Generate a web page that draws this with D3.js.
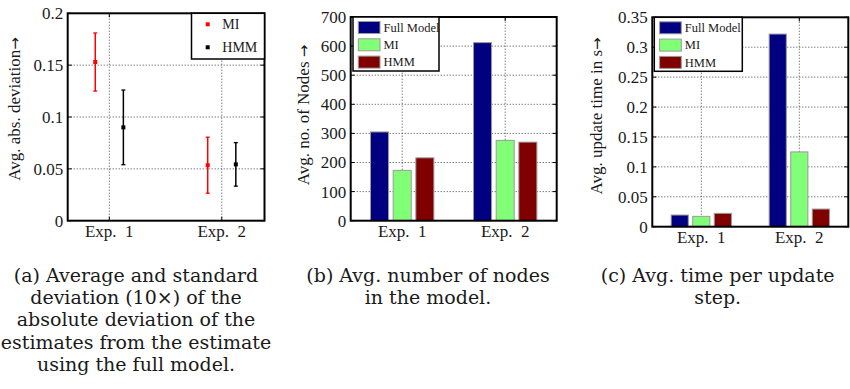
<!DOCTYPE html>
<html>
<head>
<meta charset="utf-8">
<script src="https://cdn.jsdelivr.net/npm/d3@7"></script>
<style>
  body { margin: 0; background: #fff; }
  svg text { font-family: "Liberation Serif", "Times New Roman", serif; fill: #1a1a1a; }
  svg text.cap { font-family: "DejaVu Serif", serif; }
  svg tspan.arrow { font-family: "DejaVu Sans", sans-serif; font-size: 15px; }
</style>
</head>
<body>
<svg id="fig" width="850" height="389"></svg>
<script>
// ---- data ----
const experiments = ['Exp. 1', 'Exp. 2'];
const devSeries = ['MI', 'HMM'];
const miDevMean = [0.153, 0.0535];
const miDevStd = [0.028, 0.027];
const hmmDevMean = [0.090, 0.0543];
const hmmDevStd = [0.036, 0.021];

const barSeries = ['Full Model', 'MI', 'HMM'];
const fullNodes = [305, 612];
const miNodes = [173, 276];
const hmmNodes = [216, 270];
const fullTime = [0.0195, 0.322];
const miTime = [0.0173, 0.125];
const hmmTime = [0.0223, 0.0295];

const devTicks = [0, 0.05, 0.1, 0.15, 0.2];
const nodeTicks = [0, 100, 200, 300, 400, 500, 600, 700];
const timeTicks = [0, 0.05, 0.1, 0.15, 0.2, 0.25, 0.3, 0.35];

const captionA = ['(a) Average and standard', 'deviation (10\u00d7) of the',
  'absolute deviation of the', 'estimates from the estimate', 'using the full model.'];
const captionB = ['(b) Avg. number of nodes', 'in the model.'];
const captionC = ['(c) Avg. time per update', 'step.'];

const devColors = ['#ff0000', '#000000'];
const barColors = ['#000080', '#80ff77', '#800000'];
const fmt = d3.format('~g');

const svg = d3.select('#fig');

// dotted grid, inward ticks and tick labels
function drawAxes(x, y, yTicks, xTicks, yLabel, yLabelPos) {
  const g = svg.append('g');
  const [x0, x1] = x.range();
  const [y0, y1] = y.range(); // y0 bottom, y1 top

  g.selectAll('line.gy').data(yTicks.slice(1, -1)).enter().append('line')
    .attr('x1', x0).attr('x2', x1)
    .attr('y1', d => y(d)).attr('y2', d => y(d))
    .attr('stroke', '#444').attr('stroke-width', 1)
    .attr('stroke-dasharray', '1,2');
  g.selectAll('line.gx').data(xTicks).enter().append('line')
    .attr('x1', d => x(d)).attr('x2', d => x(d))
    .attr('y1', y0).attr('y2', y1)
    .attr('stroke', '#444').attr('stroke-width', 1)
    .attr('stroke-dasharray', '1,2');

  yTicks.forEach((t) => {
    g.append('line').attr('x1', x0).attr('x2', x0 + 4)
      .attr('y1', y(t)).attr('y2', y(t)).attr('stroke', '#000');
    g.append('line').attr('x1', x1).attr('x2', x1 - 4)
      .attr('y1', y(t)).attr('y2', y(t)).attr('stroke', '#000');
  });
  xTicks.forEach((t) => {
    g.append('line').attr('x1', x(t)).attr('x2', x(t))
      .attr('y1', y0).attr('y2', y0 - 4).attr('stroke', '#000');
    g.append('line').attr('x1', x(t)).attr('x2', x(t))
      .attr('y1', y1).attr('y2', y1 + 4).attr('stroke', '#000');
  });

  g.selectAll('text.yt').data(yTicks).enter().append('text')
    .attr('x', x0 - 4.5).attr('y', d => y(d)).attr('dy', '0.35em')
    .attr('text-anchor', 'end').style('font-size', '17px')
    .text(fmt);
  g.selectAll('text.xt').data(xTicks).enter().append('text')
    .attr('x', d => x(d)).attr('y', y0 + 16.5)
    .attr('text-anchor', 'middle').style('font-size', '17px')
    .text((d, i) => experiments[i].replace('. ', '.\u00a0 '));

  const lab = g.append('text')
    .attr('transform', `translate(${yLabelPos[0]},${yLabelPos[1]}) rotate(-90)`)
    .attr('text-anchor', 'middle').attr('dy', '0.35em')
    .style('font-size', '17px');
  lab.append('tspan').text(yLabel);
  lab.append('tspan').attr('class', 'arrow').text('\u2192');
}

function drawFrame(x, y) {
  const [x0, x1] = x.range();
  const [y0, y1] = y.range();
  svg.append('rect')
    .attr('x', x0).attr('y', y1).attr('width', x1 - x0).attr('height', y0 - y1)
    .attr('fill', 'none').attr('stroke', '#000').attr('stroke-width', 2);
}

// ---- panel (a): error bars ----
{
  const x = d3.scaleLinear().domain([0.63, 2.38]).range([67.7, 264.5]);
  const y = d3.scaleLinear().domain([0, 0.2]).range([220.7, 13.3]);
  drawAxes(x, y, devTicks, [1, 2], 'Avg. abs. deviation', [14, 109]);

  const means = [miDevMean, hmmDevMean];
  const stds = [miDevStd, hmmDevStd];
  const offs = [-0.125, 0.125];
  const pts = [];
  devSeries.forEach((s, j) => {
    experiments.forEach((e, i) => {
      pts.push({ x: i + 1 + offs[j], m: means[j][i], sd: stds[j][i], c: devColors[j] });
    });
  });
  const g = svg.append('g');
  g.selectAll('line.eb').data(pts).enter().append('line')
    .attr('x1', d => x(d.x)).attr('x2', d => x(d.x))
    .attr('y1', d => y(d.m - d.sd)).attr('y2', d => y(d.m + d.sd))
    .attr('stroke', d => d.c).attr('stroke-width', 1.5);
  [-1, 1].forEach((k) => {
    g.selectAll(null).data(pts).enter().append('line')
      .attr('x1', d => x(d.x) - 2).attr('x2', d => x(d.x) + 2)
      .attr('y1', d => y(d.m + k * d.sd)).attr('y2', d => y(d.m + k * d.sd))
      .attr('stroke', d => d.c).attr('stroke-width', 1.3);
  });
  g.selectAll('rect.mk').data(pts).enter().append('rect')
    .attr('x', d => x(d.x) - 2).attr('y', d => y(d.m) - 2)
    .attr('width', 4).attr('height', 4).attr('fill', d => d.c);

  drawFrame(x, y);

  const lg = svg.append('g');
  lg.append('rect').attr('x', 191.5).attr('y', 13.3).attr('width', 73).attr('height', 45.7)
    .attr('fill', '#fff').attr('stroke', '#000').attr('stroke-width', 1.5);
  devSeries.forEach((s, j) => {
    const cy = 24.3 + j * 23;
    lg.append('rect').attr('x', 205.7).attr('y', cy - 2).attr('width', 4).attr('height', 4)
      .attr('fill', devColors[j]);
    lg.append('text').attr('x', 222.3).attr('y', cy).attr('dy', '0.35em')
      .style('font-size', '14px').text(s);
  });
}

// ---- grouped bar panels (b) and (c) ----
function barPanel(xr, yr, yDomain, ticks, series, yLabel, yLabelPos, legendBox) {
  const x = d3.scaleLinear().domain([0.5, 2.5]).range(xr);
  const y = d3.scaleLinear().domain(yDomain).range(yr);
  drawAxes(x, y, ticks, [1, 2], yLabel, yLabelPos);

  const bw = 0.175;
  const step = 0.22;
  const bars = [];
  barSeries.forEach((s, j) => {
    experiments.forEach((e, i) => {
      bars.push({ x: i + 1 + (j - 1) * step, v: series[j][i], c: barColors[j] });
    });
  });
  svg.append('g').selectAll('rect').data(bars).enter().append('rect')
    .attr('x', d => x(d.x - bw / 2))
    .attr('width', x(bw) - x(0))
    .attr('y', d => y(d.v))
    .attr('height', d => y(0) - y(d.v))
    .attr('fill', d => d.c)
    .attr('stroke', '#9a9a9a').attr('stroke-width', 1);

  drawFrame(x, y);

  const [lx, ly, lw, lh] = legendBox;
  const lg = svg.append('g');
  lg.append('rect').attr('x', lx).attr('y', ly).attr('width', lw).attr('height', lh)
    .attr('fill', '#fff').attr('stroke', '#000').attr('stroke-width', 1.5);
  barSeries.forEach((s, j) => {
    const top = ly + 4.5 + j * 17.3;
    lg.append('rect').attr('x', lx + 5.3).attr('y', top).attr('width', 21.7).attr('height', 12)
      .attr('fill', barColors[j]).attr('stroke', '#9a9a9a').attr('stroke-width', 1);
    lg.append('text').attr('x', lx + 30.5).attr('y', top + 6).attr('dy', '0.35em')
      .style('font-size', '12.5px').text(s);
  });
}

barPanel([350.7, 556.7], [220.7, 17], [0, 700], nodeTicks,
  [fullNodes, miNodes, hmmNodes], 'Avg. no. of Nodes ', [303, 115],
  [353, 17, 86, 54]);
barPanel([652.3, 848.3], [226.7, 17.3], [0, 0.35], timeTicks,
  [fullTime, miTime, hmmTime], 'Avg. update time in s', [596, 116],
  [654.3, 17.3, 88, 54]);

// ---- captions ----
function caption(lines, cx) {
  svg.append('g').selectAll('text').data(lines).enter().append('text')
    .attr('class', 'cap')
    .attr('x', cx).attr('y', (d, i) => 281.7 + i * 22.3)
    .attr('text-anchor', 'middle').style('font-size', '19px')
    .text(d => d);
}
caption(captionA, 136);
caption(captionB, 428);
caption(captionC, 717.7);
</script>
</body>
</html>
